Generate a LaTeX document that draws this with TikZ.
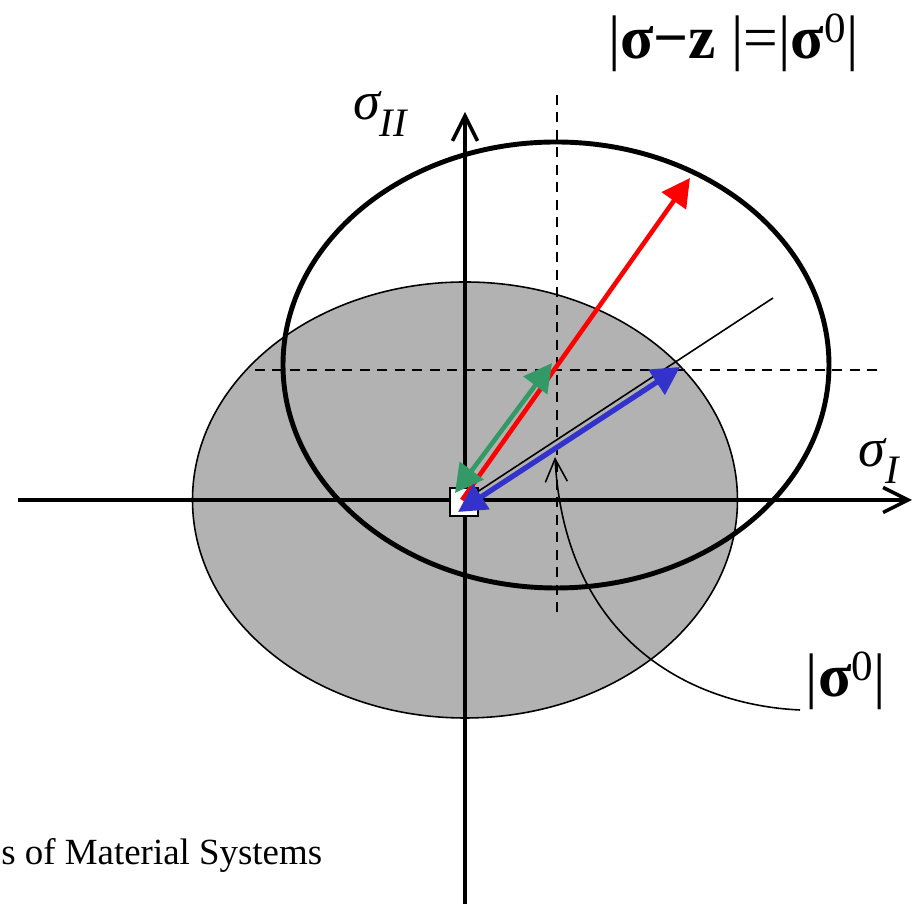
\documentclass[tikz,border=0pt]{standalone}
\usepackage{fontspec}
\setmainfont{Liberation Serif}
\usetikzlibrary{arrows.meta}
\definecolor{vecred}{RGB}{255,0,0}
\definecolor{vecgreen}{RGB}{51,153,102}
\definecolor{vecblue}{RGB}{51,51,204}
\begin{document}
\begin{tikzpicture}[>={Triangle[length=0.56cm,width=0.58cm]},
  every node/.style={inner sep=0pt},
  axis/.style={line width=2pt, -{Straight Barb[length=0.5cm,width=0.5cm]}},
  guide/.style={line width=1pt, dash pattern=on 0.2cm off 0.15cm},
  vec/.style={line width=2.6pt},
  big/.style={font=\fontsize{35}{38}\selectfont}]
\useasboundingbox (-9.30,-8.08) rectangle (9.16,10.0);
\coordinate (O) at (0,0);
\coordinate (Z) at (1.82,2.70);
\draw[line width=0.9pt, fill=black!30] (O) ellipse [x radius=5.45, y radius=4.36];
\draw[line width=2.8pt] (Z) ellipse [x radius=5.46, y radius=4.46];
\coordinate (xl) at (-8.94,0);
\coordinate (xr) at (8.94,0);
\coordinate (yb) at (0,-8.20);
\coordinate (yt) at (0,7.76);
\draw[axis] (xl) -- (xr);
\draw[axis] (yb) -- (yt);
\coordinate (vt) at (1.84,8.10);
\coordinate (vb) at (1.84,-2.30);
\coordinate (hl) at (-4.20,2.60);
\coordinate (hr) at (8.24,2.60);
\draw[guide] (vt) -- (vb);
\draw[guide] (hl) -- (hr);
\node[draw, fill=white, line width=0.9pt, minimum size=0.56cm] (sq) at (-0.02,-0.04) {};
\coordinate (ray) at (6.16,4.04);
\draw[line width=0.9pt] (O) -- (ray);
\coordinate (r0) at (-0.06,0);
\coordinate (r1) at (4.50,6.44);
\coordinate (g0) at (-0.20,0.14);
\coordinate (g1) at (1.74,2.74);
\coordinate (b0) at (-0.14,-0.24);
\coordinate (b1) at (4.30,2.66);
\draw[vec, vecred, ->] (r0) -- (r1);
\draw[vec, vecgreen, <->] (g0) -- (g1);
\draw[vec, line width=3pt, vecblue, <->] (b0) -- (b1);
\coordinate (c0) at (6.70,-4.20);
\coordinate (c1) at (1.80,0.86);
\draw[line width=0.9pt, -{Straight Barb[length=0.46cm,width=0.44cm]}] (c0) .. controls (4.50,-4.10) and (2.00,-2.80) .. (c1);
\node[big] (eq) at (5.37,9.15) {|\textbf{σ−z} |=|\textbf{σ}\textsuperscript{0}|};
\node[big] (s0) at (7.62,-3.62) {|\textbf{σ}\textsuperscript{0}|};
\node (s2) at (-1.70,7.72) {\fontsize{31}{33}\selectfont\itshape σ\raisebox{-0.32em}{\fontsize{23}{25}\selectfont II}};
\node (s1) at (8.28,0.78) {\fontsize{31}{33}\selectfont\itshape σ\raisebox{-0.32em}{\fontsize{23}{25}\selectfont I}};
\node[anchor=base west, font=\fontsize{21}{24}\selectfont] (src) at (-9.28,-7.30) {s of Material Systems};
\end{tikzpicture}
\end{document}
